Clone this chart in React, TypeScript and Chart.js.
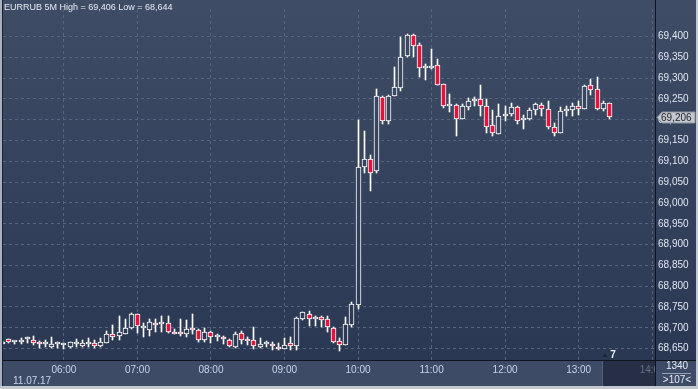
import React, { useEffect, useRef } from "react";
import { Chart, registerables } from "chart.js";

Chart.register(...registerables);

// ---- data (EURRUB, 5-minute candles, 11.07.17) ----
const startMinute = 310; // 05:10
const stepMinutes = 5;

const opens: number[] = [
  68662, 68672, 68666, 68667, 68672, 68671, 68664, 68662, 68655, 68660,
  68658, 68653, 68660, 68657, 68662, 68664, 68657, 68663, 68685, 68681,
  68685, 68699, 68732, 68699, 68694, 68711, 68708, 68711, 68691, 68688,
  68686, 68699, 68694, 68671, 68689, 68677, 68679, 68671, 68654, 68687,
  68673, 68671, 68654, 68660, 68662, 68654, 68650, 68663, 68656, 68720,
  68734, 68720, 68725, 68720, 68699, 68669, 68659, 68706, 68755, 69087,
  69105, 69076, 69254, 69198, 69257, 69277, 69353, 69405, 69379, 69324,
  69324, 69332, 69285, 69234, 69236, 69202, 69230, 69246, 69250, 69234,
  69187, 69166, 69210, 69215, 69230, 69199, 69201, 69224, 69236, 69227,
  69183, 69169, 69222, 69223, 69234, 69226, 69283, 69273, 69226, 69241,
];
const highs: number[] = [
  68669, 68673, 68669, 68675, 68677, 68681, 68669, 68671, 68679, 68667,
  68664, 68665, 68672, 68671, 68675, 68671, 68675, 68693, 68707, 68728,
  68720, 68735, 68734, 68711, 68720, 68720, 68728, 68728, 68697, 68720,
  68718, 68734, 68697, 68699, 68693, 68685, 68681, 68673, 68689, 68693,
  68679, 68701, 68676, 68669, 68665, 68663, 68676, 68679, 68726, 68738,
  68740, 68728, 68728, 68728, 68701, 68676, 68726, 68763, 69199, 69173,
  69116, 69275, 69257, 69259, 69327, 69400, 69406, 69406, 69384, 69335,
  69370, 69345, 69287, 69263, 69237, 69237, 69253, 69255, 69284, 69250,
  69223, 69238, 69234, 69241, 69232, 69212, 69228, 69241, 69240, 69246,
  69193, 69230, 69234, 69241, 69244, 69283, 69298, 69302, 69244, 69241,
];
const lows: number[] = [
  68660, 68663, 68662, 68662, 68664, 68658, 68652, 68654, 68652, 68652,
  68650, 68652, 68655, 68654, 68655, 68652, 68654, 68663, 68671, 68671,
  68685, 68696, 68687, 68677, 68681, 68691, 68690, 68688, 68685, 68681,
  68679, 68686, 68665, 68665, 68663, 68669, 68662, 68654, 68652, 68662,
  68658, 68650, 68651, 68654, 68646, 68646, 68648, 68646, 68646, 68719,
  68705, 68705, 68702, 68691, 68663, 68644, 68659, 68702, 68746, 69072,
  69030, 69072, 69189, 69189, 69257, 69269, 69351, 69351, 69304, 69296,
  69322, 69283, 69228, 69218, 69162, 69201, 69223, 69234, 69209, 69169,
  69160, 69166, 69197, 69209, 69191, 69177, 69200, 69212, 69209, 69179,
  69162, 69169, 69209, 69210, 69212, 69226, 69259, 69224, 69220, 69201,
];
const closes: number[] = [
  68667, 68667, 68667, 68668, 68673, 68664, 68660, 68663, 68660, 68661,
  68659, 68665, 68661, 68664, 68667, 68657, 68666, 68685, 68679, 68690,
  68699, 68732, 68704, 68700, 68714, 68706, 68709, 68690, 68686, 68684,
  68697, 68694, 68671, 68689, 68679, 68678, 68672, 68657, 68685, 68671,
  68668, 68656, 68662, 68661, 68656, 68648, 68658, 68656, 68723, 68737,
  68720, 68726, 68718, 68701, 68667, 68659, 68708, 68758, 69086, 69105,
  69073, 69257, 69198, 69257, 69279, 69351, 69405, 69377, 69324, 69325,
  69330, 69284, 69234, 69238, 69202, 69234, 69246, 69247, 69234, 69183,
  69168, 69210, 69215, 69230, 69197, 69200, 69224, 69238, 69226, 69183,
  69168, 69220, 69222, 69232, 69226, 69281, 69272, 69226, 69241, 69206,
];

const hourTicks: number[] = [360, 420, 480, 540, 600, 660, 720, 780, 840];
const priceTicks: number[] = [
  68650, 68700, 68750, 68800, 68850, 68900, 68950, 69000,
  69050, 69100, 69150, 69200, 69250, 69300, 69350, 69400,
];

const titleText = "EURRUB 5M High = 69,406 Low = 68,644";
const dateText = "11.07.17";
const cornerTop = "1340";
const cornerBottom = ">107<";
const markerText = "7";

const xMin = 310.3;
const xMax = 842.3;
const yMin = 68622.6;
const yMax = 69466.3;

// ---- style ----
const FONT = "Liberation Sans, Arial, sans-serif";
const BG_TOP = "#3f4c66";
const BG_BOTTOM = "#2b3853";
const RED = "#e2143e";
const GRID = "#56647e";

const fmtPrice = (v: number) => {
  const n = Math.round(v);
  return `${Math.floor(n / 1000)},${String(n % 1000).padStart(3, "0")}`;
};
const fmtTime = (m: number) => {
  const h = Math.floor(m / 60);
  const mm = m % 60;
  return `${String(h).padStart(2, "0")}:${String(mm).padStart(2, "0")}`;
};

function bgGradient(chart: any) {
  const { ctx, chartArea } = chart;
  const g = ctx.createLinearGradient(0, 0, 0, chartArea ? chartArea.bottom : 360);
  g.addColorStop(0, BG_TOP);
  g.addColorStop(1, BG_BOTTOM);
  return g;
}

// snap bar elements (positions computed by the scales) to whole pixels for crisp candles
const snapPlugin = {
  id: "snap",
  beforeDatasetsDraw(chart: any) {
    chart.getSortedVisibleDatasetMetas().forEach((meta: any) => {
      meta.data.forEach((el: any) => {
        el.x = Math.floor(el.x) + 0.5;
        el.y = Math.round(el.y);
        el.base = Math.round(el.base);
      });
    });
  },
};

const framePlugin = {
  id: "frame",
  beforeDraw(chart: any) {
    const { ctx, chartArea: ca, width, height } = chart;
    ctx.save();
    ctx.fillStyle = bgGradient(chart);
    ctx.fillRect(0, 0, width, ca.bottom);
    ctx.fillStyle = "#3e4b66";
    ctx.fillRect(0, ca.bottom, width, height - ca.bottom);
    ctx.restore();
  },
  afterDraw(chart: any) {
    const { ctx, chartArea: ca, width, height } = chart;
    const yScale = chart.scales.y;
    ctx.save();

    // dark scroll box in time panel
    ctx.fillStyle = "rgba(18,26,44,0.55)";
    ctx.fillRect(602, ca.bottom + 1, ca.right - 602, 25);
    ctx.fillStyle = "#55627b";
    ctx.fillRect(602, ca.bottom + 1, 1, 25);

    // corner panel
    ctx.fillStyle = "#3e4b66";
    ctx.fillRect(ca.right, ca.bottom, width - ca.right, height - ca.bottom);

    // separators
    ctx.fillStyle = "#0e1420";
    ctx.fillRect(ca.right, 0, 1, height);
    ctx.fillRect(0, ca.bottom, width, 1);

    // outer frame
    ctx.fillStyle = "#a9b1be";
    ctx.fillRect(0, 0, 2, height);
    ctx.fillStyle = "#1a2232";
    ctx.fillRect(2, 0, 1, height);
    ctx.fillStyle = "#c4c8cf";
    ctx.fillRect(0, 386, width, 3);
    ctx.fillRect(696, 0, 2, height);

    // title
    ctx.font = `9px ${FONT}`;
    ctx.fillStyle = "#e6ebf3";
    ctx.textBaseline = "middle";
    ctx.textAlign = "left";
    ctx.fillText(titleText, 4, 8);

    // date
    ctx.font = `10px ${FONT}`;
    ctx.fillStyle = "#c5d4ea";
    ctx.fillText(dateText, 13, 381);

    // corner texts
    ctx.textAlign = "center";
    ctx.fillStyle = "#e6ebf3";
    ctx.fillText(cornerTop, 677, 366);
    ctx.fillText(cornerBottom, 677, 380);
    ctx.fillStyle = "#98a2b4";
    ctx.fillRect(662, 373, 29, 1);

    // marker "7"
    ctx.fillStyle = "#1c2538";
    ctx.beginPath();
    ctx.moveTo(602.5, 357);
    ctx.lineTo(605, 353.5);
    ctx.lineTo(607.5, 357);
    ctx.closePath();
    ctx.fill();
    ctx.font = `bold 10px ${FONT}`;
    ctx.fillStyle = "#eef2f8";
    ctx.fillText(markerText, 613, 355.5);

    // last price tag
    const last = closes[closes.length - 1];
    const py = Math.round(yScale.getPixelForValue(last)) + 0.5;
    ctx.fillStyle = "#c3c7ce";
    ctx.strokeStyle = "#8c929c";
    ctx.lineWidth = 1;
    ctx.beginPath();
    ctx.moveTo(657, py);
    ctx.lineTo(662, py - 5.5);
    ctx.lineTo(695, py - 5.5);
    ctx.lineTo(695, py + 5.5);
    ctx.lineTo(662, py + 5.5);
    ctx.closePath();
    ctx.fill();
    ctx.stroke();
    ctx.font = `10px ${FONT}`;
    ctx.fillStyle = "#1e2228";
    ctx.textAlign = "left";
    ctx.fillText(fmtPrice(last), 661, py + 0.5);

    ctx.restore();
  },
};

export default function App() {
  const ref = useRef<HTMLCanvasElement | null>(null);

  useEffect(() => {
    document.body.style.margin = "0";
    const canvas = ref.current;
    if (!canvas) return;

    const xs = opens.map((_, i) => startMinute + i * stepMinutes);
    const bodies = xs.map((x, i) => ({
      x,
      y: [Math.min(opens[i], closes[i]), Math.max(opens[i], closes[i])],
    }));
    const wicks = xs.map((x, i) => ({ x, y: [lows[i], highs[i]] }));

    const chart = new Chart(canvas, {
      type: "bar",
      data: {
        datasets: [
          {
            label: "body",
            data: bodies as any,
            backgroundColor: (c: any) => {
              const i = c.dataIndex;
              if (i === undefined) return RED;
              return closes[i] < opens[i] ? RED : bgGradient(c.chart);
            },
            borderColor: "#ffffff",
            borderWidth: 1,
            borderSkipped: false,
            barThickness: 5,
            minBarLength: 2,
            grouped: false,
            order: 1,
          } as any,
          {
            label: "wick",
            data: wicks as any,
            backgroundColor: "#ffffff",
            borderWidth: 0,
            barThickness: 1,
            grouped: false,
            order: 2,
          } as any,
        ],
      },
      options: {
        animation: false,
        responsive: false,
        devicePixelRatio: 1,
        events: [],
        layout: { padding: { left: 3, top: 0, right: 0, bottom: 0 } },
        plugins: {
          legend: { display: false },
          tooltip: { enabled: false },
          title: { display: false },
        },
        scales: {
          x: {
            type: "linear",
            min: xMin,
            max: xMax,
            offset: false,
            grid: { offset: false, color: GRID, lineWidth: 1, drawTicks: false },
            border: { display: false, dash: [3, 3] },
            ticks: {
              color: "#c5d4ea",
              font: { family: FONT, size: 10 },
              padding: 4,
              maxRotation: 0,
              autoSkip: false,
              callback: (v: any) => fmtTime(Number(v)),
            },
            afterBuildTicks: (s: any) => {
              s.ticks = hourTicks.map((v) => ({ value: v }));
            },
            afterFit: (s: any) => {
              s.height = 29;
            },
          } as any,
          y: {
            type: "linear",
            position: "right",
            min: yMin,
            max: yMax,
            grid: { color: GRID, lineWidth: 1, drawTicks: false },
            border: { display: false, dash: [3, 3] },
            ticks: {
              color: "#dfe6f2",
              font: { family: FONT, size: 10 },
              padding: 3,
              crossAlign: "near",
              callback: (v: any) => fmtPrice(Number(v)),
            },
            afterBuildTicks: (s: any) => {
              s.ticks = priceTicks.map((v) => ({ value: v }));
            },
            afterFit: (s: any) => {
              s.width = 43;
            },
          } as any,
        },
      },
      plugins: [snapPlugin, framePlugin],
    });

    return () => chart.destroy();
  }, []);

  return (
    <div style={{ position: "fixed", left: 0, top: 0, width: 698, height: 389 }}>
      <canvas ref={ref} width={698} height={389} style={{ display: "block" }} />
    </div>
  );
}
